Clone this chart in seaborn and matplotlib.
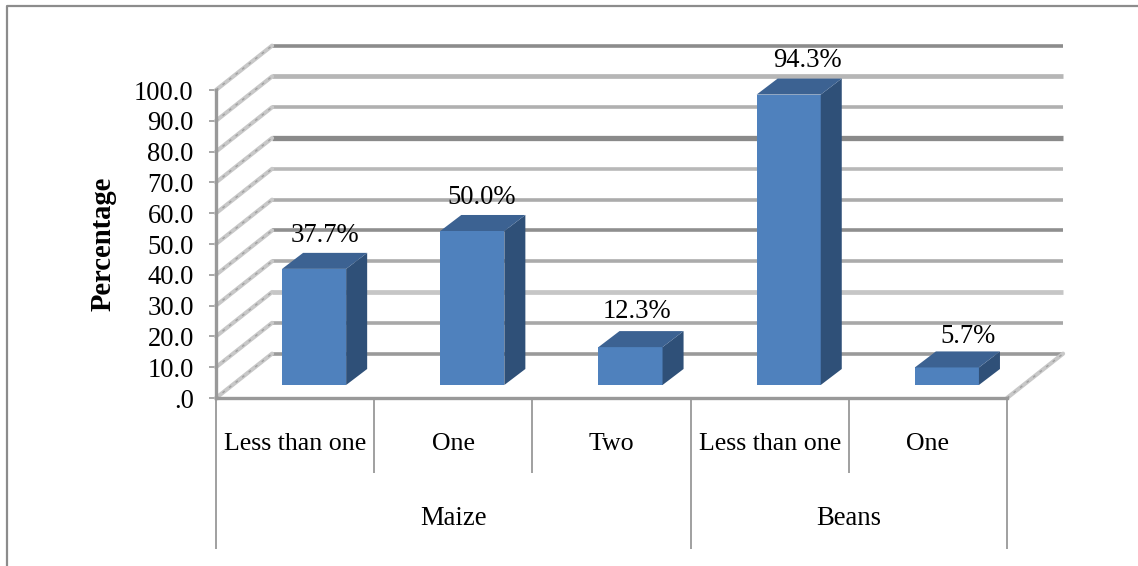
import matplotlib
matplotlib.use('Agg')
import matplotlib.pyplot as plt
from matplotlib.patches import Polygon
import pandas as pd
import seaborn as sns

W, H = 1138, 566

# data
crops = ['Maize', 'Maize', 'Maize', 'Beans', 'Beans']
frequency = ['Less than one', 'One', 'Two', 'Less than one', 'One']
percent = [37.7, 50.0, 12.3, 94.3, 5.7]
y_ticks = [0, 10, 20, 30, 40, 50, 60, 70, 80, 90, 100]
y_tick_labels = ['.0', '10.0', '20.0', '30.0', '40.0', '50.0', '60.0', '70.0', '80.0', '90.0', '100.0']

# the back wall lines are not all the same in the original
wall_color = ['#9a9a9a', '#a8a8a8', '#c6c6c6', '#ababab', '#8f8f8f', '#ababab',
              '#b8b8b8', '#8a8a8a', '#b0b0b0', '#b6b6b6', '#8c8c8c']
wall_width = [2.6, 2.6, 3.4, 2.6, 2.6, 2.6, 2.6, 3.8, 2.6, 3.4, 2.6]

line_grey = '#999999'
front_blue = '#4f81bd'
top_blue = '#3c6292'
side_blue = '#2f5078'

sns.set_theme(style='white')
plt.rcParams['font.family'] = ['Liberation Serif', 'DejaVu Serif']
plt.rcParams['font.size'] = 19.2
plt.rcParams['xtick.labelsize'] = 18.6
plt.rcParams['ytick.labelsize'] = 19.2
plt.rcParams['axes.unicode_minus'] = False

df = pd.DataFrame({'crop': crops, 'frequency': frequency, 'percent': percent})
df['key'] = df['crop'] + ' ' + df['frequency']


def box(left, top, right, bottom):
    # pixel box of the picture -> figure fractions
    return [left / W, 1 - bottom / H, (right - left) / W, (bottom - top) / H]


fig = plt.figure(figsize=(W / 100, H / 100), dpi=100)

# outer frame, only left and top are visible
fig.add_artist(plt.Line2D([7 / W, 7 / W, 1], [0, 1 - 6 / H, 1 - 6 / H], color='#8c8c8c', lw=1.6))

# front plane: axis, ticks and category table
base = fig.add_axes(box(216, 90, 1007, 398))
base.set_xlim(-0.5, 4.5)
base.set_ylim(0, 100)
base.patch.set_visible(False)
sns.despine(ax=base)
for side in ['left', 'bottom']:
    base.spines[side].set_color(line_grey)
    base.spines[side].set_linewidth(2.4)
base.set_yticks(y_ticks, y_tick_labels)
base.tick_params(axis='y', length=5, width=1.2, color=line_grey, pad=11, labelcolor='black', left=True)
base.set_xticks(range(len(frequency)), frequency)
base.tick_params(axis='x', length=0, pad=25.5, labelcolor='black')
base.set_ylabel('Percentage', fontweight='bold', fontsize=20.6, color='black', labelpad=13)

# back wall, floor edge and the slanted lines
depth_x = 56 / 158
depth_y = 14.4
for v, c, lw in zip(y_ticks, wall_color, wall_width):
    base.plot([-0.5 + depth_x, 4.5 + depth_x], [v + depth_y, v + depth_y], color=c, lw=lw,
              clip_on=False, solid_capstyle='butt', zorder=1)
    base.plot([-0.5, -0.5 + depth_x], [v, v + depth_y], color='#c8c8c8', lw=3, clip_on=False, zorder=1)
    base.plot([-0.5, -0.5 + depth_x], [v, v + depth_y], color='#a0a0a0', lw=1, ls=(0, (2, 4)),
              clip_on=False, zorder=1)
base.plot([4.5, 4.5 + depth_x], [0, depth_y], color='#c8c8c8', lw=3, clip_on=False, zorder=1)
base.plot([4.5, 4.5 + depth_x], [0, depth_y], color='#a0a0a0', lw=1, ls=(0, (2, 4)), clip_on=False, zorder=1)

# separators of the two level axis
base.vlines([0.5, 1.5, 3.5], -24.3, 0, color=line_grey, lw=1.3, clip_on=False)
base.vlines([-0.5, 2.5, 4.5], -49, 0, color=line_grey, lw=1.3, clip_on=False)
for name in ['Maize', 'Beans']:
    idx = df.index[df['crop'] == name]
    base.text((idx[0] + idx[-1]) / 2, -39, name, ha='center', va='center', color='black')

# bars sit a bit inside the floor so they get their own axes
ax = fig.add_axes(box(235, 77, 1026, 385), zorder=2)
sns.barplot(data=df, x='key', y='percent', color=front_blue, saturation=1, width=0.405, linewidth=0, ax=ax)
ax.set_xlim(-0.5, 4.5)
ax.set_ylim(0, 100)
ax.axis('off')

bar_x = 21 / 158
bar_y = 5.2
for bar in ax.patches[:len(percent)]:
    x0 = bar.get_x()
    x1 = x0 + bar.get_width()
    h = bar.get_height()
    ax.add_patch(Polygon([(x1, 0), (x1 + bar_x, bar_y), (x1 + bar_x, h + bar_y), (x1, h)],
                         facecolor=side_blue, edgecolor='none', clip_on=False))
    ax.add_patch(Polygon([(x0, h), (x0 + bar_x, h + bar_y), (x1 + bar_x, h + bar_y), (x1, h)],
                         facecolor=top_blue, edgecolor='none', clip_on=False))

# value labels
nudge_x = [11, 9, 6, 19, 21]
nudge_y = [33, 34, 36, 34, 31]
for i, v in enumerate(percent):
    ax.annotate(f'{v:.1f}%', (i, v), xytext=(nudge_x[i], nudge_y[i]), textcoords='offset pixels',
                ha='center', va='center', color='black', annotation_clip=False)

fig.savefig('out.png', dpi=100)
